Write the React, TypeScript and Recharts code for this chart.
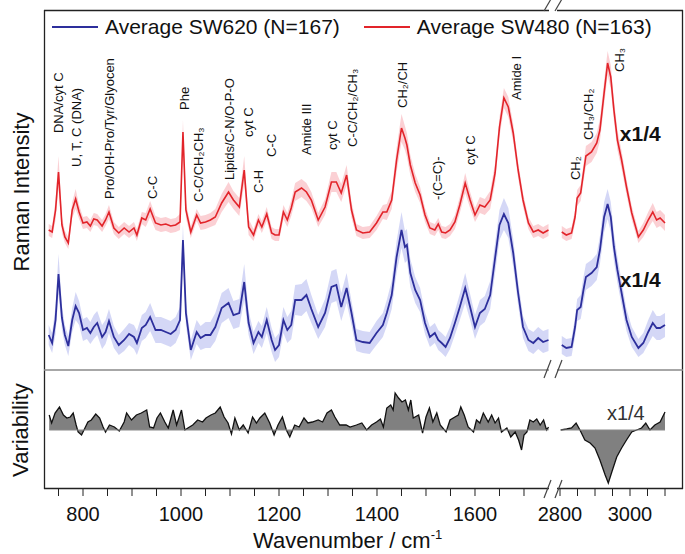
import React from 'react';
import {
  Area,
  ComposedChart,
  Legend,
  Line,
  ReferenceDot,
  ReferenceLine,
  XAxis,
  YAxis,
} from 'recharts';

const FONT = '"Liberation Sans", Arial, Helvetica, sans-serif';

// Broken x axis: 720-1760 cm-1 on the left, 2800-3100 cm-1 squeezed on the right
const LEFT_SCALE = 0.49; // px per cm-1, left part
const RIGHT_SCALE = 0.35; // px per cm-1, right part
const RIGHT_START = 1773.5; // axis position of 2800 cm-1
const X_DOMAIN: [number, number] = [720.4, 2024.5];

function toAxis(w: number) {
  return w < 2000 ? w : RIGHT_START + ((w - 2800) * RIGHT_SCALE) / LEFT_SCALE;
}
function fromAxis(u: number) {
  return u < RIGHT_START - 1 ? u : 2800 + ((u - RIGHT_START) * LEFT_SCALE) / RIGHT_SCALE;
}

// ---- spectra (arbitrary intensity units), fingerprint region ----
const leftWavenumbers = [
  730, 737, 744, 750, 757, 763, 770, 778, 785, 792,
  800, 808, 815, 822, 829, 839, 846, 853, 863, 873,
  884, 894, 904, 910, 920, 928, 937, 948, 959, 969,
  979, 989, 998, 1004, 1010, 1020, 1032, 1040, 1050, 1060,
  1070, 1083, 1097, 1107, 1119, 1129, 1138, 1148, 1158, 1165,
  1175, 1185, 1192, 1200, 1209, 1217, 1225, 1233, 1246, 1256,
  1266, 1280, 1294, 1307, 1317, 1327, 1338, 1348, 1358, 1371,
  1385, 1399, 1412, 1420, 1430, 1440, 1450, 1457, 1461, 1468,
  1478, 1488, 1498, 1508, 1518, 1525, 1532, 1540, 1549, 1559,
  1569, 1580, 1590, 1600, 1610, 1620, 1631, 1641, 1650, 1659,
  1668, 1678, 1688, 1698, 1709, 1719, 1729, 1739, 1750,
];
const sw480Left = [
  140, 138, 160, 198, 145, 133, 127, 160, 171, 158,
  147, 148, 144, 151, 150, 144, 150, 158, 142, 137,
  142, 138, 142, 135, 152, 150, 161, 147, 145, 146,
  144, 145, 148, 238, 160, 138, 155, 147, 148, 150,
  153, 167, 178, 170, 163, 200, 143, 135, 150, 143,
  156, 137, 135, 135, 158, 150, 162, 178, 182, 178,
  170, 150, 163, 188, 188, 177, 195, 160, 140, 137,
  138, 147, 158, 158, 170, 210, 242, 232, 225, 205,
  187, 175, 155, 142, 140, 146, 138, 137, 140, 148,
  165, 187, 170, 155, 165, 163, 170, 197, 243, 272,
  263, 237, 200, 170, 147, 138, 140, 137, 140,
];
const sw620Left = [
  35, 27, 50, 96, 52, 35, 24, 50, 64, 57,
  40, 42, 37, 43, 47, 33, 38, 49, 33, 25,
  30, 36, 33, 27, 42, 45, 53, 40, 40, 38,
  36, 40, 50, 130, 57, 20, 38, 32, 35, 35,
  43, 62, 67, 55, 57, 88, 47, 27, 38, 33,
  50, 30, 20, 25, 50, 40, 45, 70, 70, 75,
  61, 43, 57, 83, 85, 63, 82, 57, 30, 28,
  27, 37, 45, 57, 75, 113, 140, 123, 125, 97,
  80, 70, 47, 33, 37, 30, 27, 23, 32, 47,
  63, 82, 63, 43, 57, 61, 75, 112, 145, 156,
  147, 117, 77, 43, 30, 27, 32, 28, 30,
];
const sw480SdLeft = [
  6, 6, 10, 16, 8, 6, 6, 8, 10, 7,
  6, 6, 6, 6, 6, 6, 6, 7, 6, 6,
  6, 6, 6, 6, 6, 7, 8, 7, 7, 7,
  7, 7, 8, 12, 8, 6, 6, 7, 7, 7,
  8, 9, 10, 9, 9, 14, 8, 6, 6, 6,
  7, 6, 6, 6, 7, 7, 8, 9, 9, 9,
  8, 7, 8, 10, 10, 9, 10, 8, 6, 6,
  6, 7, 7, 8, 9, 12, 14, 12, 12, 10,
  9, 8, 7, 6, 6, 6, 6, 6, 6, 7,
  8, 10, 8, 7, 8, 8, 9, 10, 10, 10,
  10, 9, 8, 7, 6, 6, 6, 6, 6,
];
const sw620SdLeft = [
  10, 10, 14, 20, 12, 10, 10, 12, 14, 12,
  11, 11, 11, 12, 12, 12, 12, 12, 11, 10,
  11, 11, 12, 12, 13, 13, 14, 13, 13, 13,
  13, 13, 13, 15, 12, 10, 12, 12, 13, 13,
  14, 15, 15, 14, 14, 18, 12, 11, 11, 11,
  13, 12, 12, 12, 13, 13, 14, 15, 16, 16,
  14, 12, 14, 16, 16, 14, 15, 12, 11, 11,
  11, 12, 12, 13, 14, 16, 18, 16, 16, 14,
  13, 12, 11, 10, 10, 10, 10, 10, 11, 12,
  13, 15, 13, 12, 13, 13, 14, 15, 15, 16,
  15, 14, 12, 11, 11, 11, 11, 11, 11,
];

// ---- spectra, high wavenumber region (shown x1/4) ----
const rightWavenumbers = [
  2805, 2818, 2833, 2843, 2849, 2859, 2867, 2874, 2890, 2905,
  2914, 2926, 2936, 2945, 2954, 2964, 2976, 2990, 3005, 3024,
  3038, 3052, 3065, 3076, 3086, 3100,
];
const sw480Right = [
  138, 135, 137, 153, 172, 177, 197, 214, 218, 227,
  240, 277, 307, 293, 260, 230, 210, 183, 157, 133,
  140, 150, 158, 150, 152, 147,
];
const sw620Right = [
  25, 22, 23, 43, 60, 63, 80, 93, 97, 103,
  120, 153, 166, 153, 123, 100, 77, 50, 33, 22,
  27, 38, 47, 42, 42, 45,
];
const sw480SdRight = [
  6, 6, 6, 7, 8, 8, 9, 10, 10, 10,
  11, 12, 12, 12, 11, 10, 9, 8, 7, 6,
  7, 8, 9, 8, 8, 8,
];
const sw620SdRight = [
  9, 9, 9, 10, 11, 12, 13, 13, 13, 13,
  14, 15, 15, 15, 14, 13, 12, 11, 10, 9,
  10, 12, 13, 12, 12, 12,
];

// ---- variability (difference spectrum) ----
const varLeftWavenumbers = [
  731, 736, 743, 752, 760, 767, 774, 780, 786, 790,
  797, 804, 810, 817, 826, 834, 841, 846, 854, 864,
  874, 884, 889, 899, 909, 919, 930, 936, 944, 951,
  958, 967, 974, 984, 991, 1001, 1008, 1014, 1024, 1034,
  1044, 1051, 1061, 1070, 1080, 1088, 1096, 1103, 1110, 1119,
  1127, 1137, 1146, 1154, 1161, 1171, 1181, 1190, 1198, 1207,
  1215, 1222, 1232, 1241, 1251, 1259, 1268, 1280, 1289, 1298,
  1307, 1314, 1324, 1337, 1345, 1358, 1369, 1379, 1389, 1399,
  1407, 1413, 1420, 1428, 1433, 1437, 1444, 1451, 1458, 1464,
  1469, 1474, 1485, 1493, 1500, 1507, 1514, 1522, 1529, 1541,
  1549, 1559, 1566, 1571, 1578, 1586, 1597, 1603, 1610, 1617,
  1627, 1634, 1641, 1648, 1654, 1665, 1673, 1682, 1689, 1695,
  1700, 1706, 1712, 1719, 1726, 1733, 1740, 1746, 1750,
];
const variabilityLeft = [
  15, 7, 17, 23, 15, 12, 13, 17, 5, -2,
  -5, 2, 8, 10, 16, 12, 3, -2, 5, 3,
  -1, 8, 17, 10, 15, 17, 20, 3, 2, 12,
  17, 8, 2, 20, 5, 20, 0, 2, 5, 10,
  8, 12, 15, 17, 23, 13, 7, -4, 12, 0,
  5, -3, 13, 7, 12, 17, 7, -5, 5, 13,
  0, -7, 5, 3, 12, 7, 8, 10, 8, 17,
  20, 13, 5, 5, 3, 5, 7, 0, 5, 8,
  11, 3, 22, 25, 20, 37, 32, 28, 30, 20,
  30, 12, 15, -3, 13, 22, 8, 17, 5, -2,
  10, 13, 15, 23, 15, 3, -2, 10, 7, 17,
  8, 15, 7, 12, -2, 2, -7, -2, -10, -20,
  -5, -2, 10, 8, 11, 5, 10, 0, 3,
];
const varRightWavenumbers = [
  2802, 2819, 2833, 2846, 2857, 2871, 2886, 2900, 2914, 2929,
  2938, 2948, 2962, 2976, 2990, 3005, 3019, 3033, 3045, 3057,
  3071, 3086, 3100,
];
const variabilityRight = [
  0, 1, 2, 7, 0, -10, -13, -18, -30, -45,
  -53, -42, -27, -18, -10, -2, 0, 2, 7, 0,
  5, 8, 18,
];

// ---- axis ticks ----
const tickWavenumbers = [
  750, 800, 850, 900, 950, 1000, 1050, 1100, 1150, 1200, 1250, 1300,
  1350, 1400, 1450, 1500, 1550, 1600, 1650, 1700,
  2800, 2850, 2900, 2950, 3000, 3050, 3100,
];
const labeledWavenumbers = [800, 1000, 1200, 1400, 1600, 2800, 3000];

// ---- band assignments ----
const peakLabels = [
  'DNA/cyt C', 'U, T, C (DNA)', 'Pro/OH-Pro/Tyr/Glyocen', 'C-C', 'Phe',
  'C-C/CH₂CH₃', 'Lipids/C-N/O-P-O', 'cyt C', 'C-H', 'C-C',
  'Amide III', 'cyt C', 'C-C/CH₂/CH₃', 'CH₂/CH', '-(C=C)-',
  'cyt C', 'Amide I', 'CH₂', 'CH₃/CH₂', 'CH₃',
];
const peakWavenumbers = [
  749, 786, 855, 941, 1008, 1035, 1098, 1137, 1159, 1184,
  1257, 1310, 1349, 1453, 1524, 1590, 1684, 2843, 2880, 2971,
];
const peakLabelBase = [
  237, 203, 171, 171, 260, 168, 190, 233, 177, 213,
  215, 220, 223, 262, 170, 205, 270, 190, 230, 298,
];

const seriesNames = ['Average SW620 (N=167)', 'Average SW480 (N=163)'];

const RED = '#e2242a';
const RED_BAND = '#f7a9b1';
const BLUE = '#2d2f9c';
const BLUE_BAND = '#c9cdf4';

const tickPositions = tickWavenumbers.map(toAxis);

function buildSpectra() {
  const rows: any[] = leftWavenumbers.map((w, i) => ({
    u: toAxis(w),
    sw480: sw480Left[i],
    sw620: sw620Left[i],
    sw480Band: [sw480Left[i] - sw480SdLeft[i], sw480Left[i] + sw480SdLeft[i]],
    sw620Band: [sw620Left[i] - sw620SdLeft[i], sw620Left[i] + sw620SdLeft[i]],
  }));
  // empty row so the lines break across the axis gap
  rows.push({ u: 1763, sw480: null, sw620: null, sw480Band: null, sw620Band: null });
  rightWavenumbers.forEach((w, i) =>
    rows.push({
      u: toAxis(w),
      sw480: sw480Right[i],
      sw620: sw620Right[i],
      sw480Band: [sw480Right[i] - sw480SdRight[i], sw480Right[i] + sw480SdRight[i]],
      sw620Band: [sw620Right[i] - sw620SdRight[i], sw620Right[i] + sw620SdRight[i]],
    })
  );
  return rows;
}

function buildVariability() {
  const rows: any[] = varLeftWavenumbers.map((w, i) => ({ u: toAxis(w), v: variabilityLeft[i] }));
  rows.push({ u: 1763, v: null });
  varRightWavenumbers.forEach((w, i) => rows.push({ u: toAxis(w), v: variabilityRight[i] }));
  return rows;
}

const spectraRows = buildSpectra();
const variabilityRows = buildVariability();

function tickLabel(u: number) {
  const w = Math.round(fromAxis(u));
  return labeledWavenumbers.includes(w) ? String(w) : '';
}

// rotated band assignment text, anchored at its lower end
function PeakText(props: any) {
  const { cx, cy, text } = props;
  if (cx == null || cy == null) return null;
  return (
    <text
      x={cx}
      y={cy}
      transform={`rotate(-90 ${cx} ${cy})`}
      dominantBaseline="central"
      fontSize={13}
      fill="#111"
    >
      {text}
    </text>
  );
}

function ScaleNote(props: any) {
  const { cx, cy, bold, size } = props;
  if (cx == null || cy == null) return null;
  return (
    <text
      x={cx}
      y={cy}
      dominantBaseline="central"
      fontSize={size}
      fontWeight={bold ? 'bold' : 'normal'}
      fill={bold ? '#111' : '#333'}
    >
      x1/4
    </text>
  );
}

function SeriesLegend({ payload }: any) {
  const items = (payload || [])
    .filter((p: any) => p.type !== 'none')
    .sort((a: any, b: any) => seriesNames.indexOf(a.value) - seriesNames.indexOf(b.value));
  return (
    <div style={{ display: 'flex', alignItems: 'center', fontSize: 21, lineHeight: '24px', color: '#111', whiteSpace: 'nowrap' }}>
      {items.map((p: any, i: number) => (
        <div key={p.value} style={{ display: 'flex', alignItems: 'center', marginLeft: i === 0 ? 0 : 24 }}>
          <svg width={46} height={4}>
            <line x1={0} y1={2} x2={46} y2={2} stroke={p.color} strokeWidth={2} />
          </svg>
          <span style={{ marginLeft: 7 }}>{p.value}</span>
        </div>
      ))}
    </div>
  );
}

function BreakMarks({ y, h }: { y: number; h: number }) {
  return (
    <g stroke="#444" strokeWidth={1.2}>
      <line x1={544} y1={y + h} x2={551} y2={y - h} />
      <line x1={555} y1={y + h} x2={562} y2={y - h} />
    </g>
  );
}

export default function App() {
  return (
    <div
      style={{
        position: 'absolute',
        left: 0,
        top: 0,
        width: 685,
        height: 554,
        background: '#fff',
        fontFamily: FONT,
      }}
    >
      <div style={{ position: 'absolute', left: 0, top: 0 }}>
        <ComposedChart
          width={685}
          height={372}
          data={spectraRows}
          margin={{ top: 10, right: 2, bottom: 2, left: 44 }}
        >
          <XAxis
            orientation="top"
            type="number"
            dataKey="u"
            domain={X_DOMAIN}
            ticks={tickPositions}
            tick={false}
            tickSize={5}
            axisLine={false}
            height={0}
            stroke="#222"
            allowDataOverflow
          />
          <YAxis hide domain={[0, 360]} allowDataOverflow />
          <Legend
            layout="vertical"
            align="center"
            verticalAlign="middle"
            wrapperStyle={{ top: 15, left: 52, width: 630, height: 24 }}
            content={<SeriesLegend />}
          />
          <Area
            dataKey="sw620Band"
            stroke="none"
            fill={BLUE_BAND}
            fillOpacity={0.8}
            legendType="none"
            isAnimationActive={false}
          />
          <Area
            dataKey="sw480Band"
            stroke="none"
            fill={RED_BAND}
            fillOpacity={0.55}
            legendType="none"
            isAnimationActive={false}
          />
          <Line
            dataKey="sw620"
            name={seriesNames[0]}
            stroke={BLUE}
            strokeWidth={1.8}
            dot={false}
            isAnimationActive={false}
          />
          <Line
            dataKey="sw480"
            name={seriesNames[1]}
            stroke={RED}
            strokeWidth={1.6}
            dot={false}
            isAnimationActive={false}
          />
          {peakLabels.map((text, i) => (
            <ReferenceDot
              key={`${text}-${i}`}
              x={toAxis(peakWavenumbers[i])}
              y={peakLabelBase[i]}
              r={0}
              ifOverflow="visible"
              shape={(p: any) => <PeakText {...p} text={text} />}
            />
          ))}
          <ReferenceDot
            x={toAxis(2971)}
            y={237}
            r={0}
            ifOverflow="visible"
            shape={(p: any) => <ScaleNote {...p} bold size={21} />}
          />
          <ReferenceDot
            x={toAxis(2971)}
            y={91}
            r={0}
            ifOverflow="visible"
            shape={(p: any) => <ScaleNote {...p} bold size={21} />}
          />
        </ComposedChart>
      </div>

      <div style={{ position: 'absolute', left: 0, top: 370 }}>
        <ComposedChart
          width={685}
          height={184}
          data={variabilityRows}
          margin={{ top: 0, right: 2, bottom: 0, left: 44 }}
        >
          <XAxis
            type="number"
            dataKey="u"
            domain={X_DOMAIN}
            ticks={tickPositions}
            tickFormatter={tickLabel}
            tickSize={7}
            tickMargin={11}
            axisLine={false}
            height={65}
            stroke="#222"
            tick={{ fontSize: 20, fill: '#111' }}
            interval={0}
            allowDataOverflow
          />
          <YAxis hide domain={[-59, 60]} allowDataOverflow />
          <Area
            dataKey="v"
            type="linear"
            baseValue={0}
            stroke="#111"
            strokeWidth={1.3}
            fill="#808080"
            fillOpacity={1}
            isAnimationActive={false}
          />
          <ReferenceLine
            segment={[
              { x: toAxis(731), y: 0 },
              { x: toAxis(1750), y: 0 },
            ]}
            stroke="#8a8a8a"
            strokeWidth={1}
          />
          <ReferenceLine
            segment={[
              { x: toAxis(2802), y: 0 },
              { x: toAxis(3100), y: 0 },
            ]}
            stroke="#8a8a8a"
            strokeWidth={1}
          />
          <ReferenceDot
            x={toAxis(2934)}
            y={17}
            r={0}
            ifOverflow="visible"
            shape={(p: any) => <ScaleNote {...p} size={20} />}
          />
        </ComposedChart>
      </div>

      <svg
        width={685}
        height={554}
        style={{ position: 'absolute', left: 0, top: 0, pointerEvents: 'none' }}
      >
        <g stroke="#222" strokeWidth={1.3} fill="none">
          <line x1={44.5} y1={10} x2={44.5} y2={489} />
          <line x1={682.5} y1={10} x2={682.5} y2={489} />
          <line x1={44} y1={10.5} x2={549} y2={10.5} />
          <line x1={557} y1={10.5} x2={683} y2={10.5} />
          <line x1={44} y1={488.5} x2={549} y2={488.5} />
          <line x1={557} y1={488.5} x2={683} y2={488.5} />
        </g>
        <g stroke="#8a8a8a" strokeWidth={1.5}>
          <line x1={44} y1={370} x2={549} y2={370} />
          <line x1={557} y1={370} x2={683} y2={370} />
        </g>
        <BreakMarks y={5} h={6} />
        <BreakMarks y={369} h={9} />
        <BreakMarks y={489} h={9} />
        <text
          transform="translate(21 192) rotate(-90)"
          textAnchor="middle"
          dominantBaseline="central"
          fontSize={22}
          fill="#111"
        >
          Raman Intensity
        </text>
        <text
          transform="translate(20 430) rotate(-90)"
          textAnchor="middle"
          dominantBaseline="central"
          fontSize={22}
          fill="#111"
        >
          Variability
        </text>
        <text x={253} y={548} fontSize={22} fill="#111">
          Wavenumber / cm
          <tspan dy={-9} fontSize={13}>
            -1
          </tspan>
        </text>
      </svg>
    </div>
  );
}
